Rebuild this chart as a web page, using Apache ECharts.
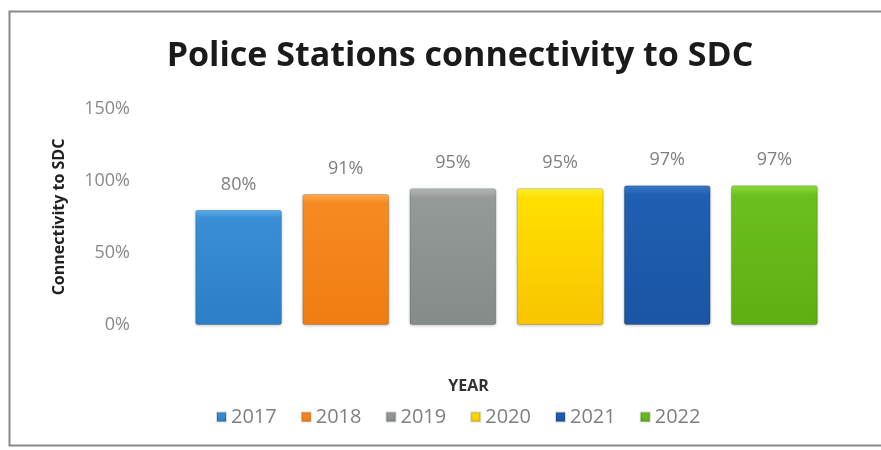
<!DOCTYPE html>
<html><head><meta charset="utf-8">
<script src="https://cdn.jsdelivr.net/npm/echarts@6/dist/echarts.min.js"></script>
<style>html,body{margin:0;padding:0;background:#fff}#c{width:881px;height:450px}</style>
</head><body><div id="c"></div>
<script>
const years = ['2017','2018','2019','2020','2021','2022'];
const values = [80, 91, 95, 95, 97, 97];
const yTicks = [0, 50, 100, 150];
const colors = [
  ['#5cb0ee','#3a8ed6','#2c7fc6'],
  ['#ffac4a','#f68a20','#f07d12'],
  ['#b6bbb9','#959a98','#858b89'],
  ['#fff030','#ffe000','#f8c400'],
  ['#3a78c8','#1f5fb2','#1b55a4'],
  ['#8fdc3a','#6cc01e','#5eae14']
];
const chart = echarts.init(document.getElementById('c'));
const series = years.map((y, i) => ({
  name: y,
  type: 'bar',
  stack: 'all',
  barWidth: '81%',
  data: years.map((_, j) => j === i ? values[i] : null),
  itemStyle: {
    color: new echarts.graphic.LinearGradient(0,0,0,1,[{offset:0,color:colors[i][0]},{offset:0.07,color:colors[i][1]},{offset:1,color:colors[i][2]}]),
    borderColor: 'rgba(0,0,0,0.15)', borderWidth: 1, borderRadius: 2,
    shadowColor: 'rgba(0,0,0,0.25)', shadowBlur: 3, shadowOffsetY: 1
  },
  label: {
    show: true, position: 'top', distance: 16,
    formatter: p => p.value + '%',
    color: '#7f7f7f', fontSize: 18, fontFamily: 'Open Sans'
  }
}));
chart.setOption({
  animation: false,
  backgroundColor: '#fff',
  title: {
    text: 'Police Stations connectivity to SDC',
    left: 455, top: 34, textAlign: 'center',
    textStyle: { fontFamily: 'Open Sans', fontWeight: 'bold', fontSize: 34, color: '#1a1a1a' }
  },
  graphic: [{
    type: 'rect', shape: { x: 9.5, y: 11.5, width: 900, height: 434 },
    style: { fill: 'none', stroke: '#8a8a8a', lineWidth: 2 }, silent: true, z: -1
  }],
  legend: {
    data: years, left: 216, top: 407, padding: 0,
    itemWidth: 9, itemHeight: 9, itemGap: 24, icon: 'rect',
    textStyle: { color: '#7f7f7f', fontSize: 20, fontFamily: 'Open Sans' }
  },
  grid: { left: 185, right: 53, top: 109, bottom: 125 },
  xAxis: {
    type: 'category', data: years,
    axisLine: { show: false }, axisTick: { show: false }, axisLabel: { show: false },
    name: 'YEAR', nameLocation: 'middle', nameGap: 53,
    nameTextStyle: { fontFamily: 'Open Sans', fontWeight: 'bold', fontSize: 16, color: '#333', padding: [0, 76, 0, 0] }
  },
  yAxis: {
    type: 'value', min: yTicks[0], max: yTicks[yTicks.length-1], interval: 50,
    splitLine: { show: false }, axisLine: { show: false }, axisTick: { show: false },
    axisLabel: { formatter: v => v + '%', color: '#8a8a8a', fontSize: 18, fontFamily: 'Open Sans', margin: 55 },
    name: 'Connectivity to SDC', nameLocation: 'middle', nameGap: 118, nameRotate: 90,
    nameTextStyle: { fontFamily: 'Open Sans', fontWeight: 'bold', fontSize: 16, color: '#222' }
  },
  series: series
});
</script></body></html>
